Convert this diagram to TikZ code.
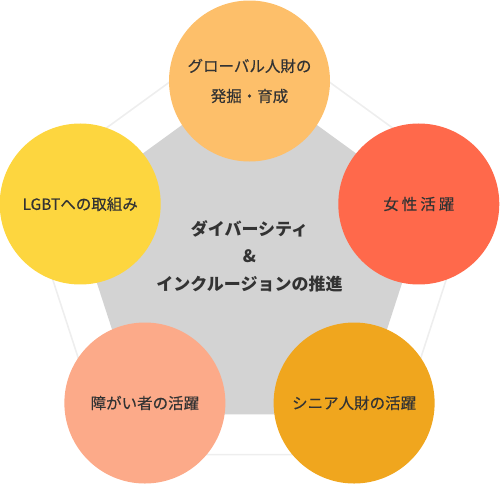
\documentclass[tikz,border=0pt]{standalone}
\usepackage{fontspec}
\setmainfont{Noto Sans CJK JP}
\newfontfamily\fieldfont{Noto Sans CJK JP}[FakeBold=0.3]
\definecolor{textgray}{HTML}{333333}
\definecolor{pentagray}{HTML}{D3D3D3}
\definecolor{linegray}{HTML}{EEEEEE}
\definecolor{globalorange}{HTML}{FDBF6A}
\definecolor{womenred}{HTML}{FF694B}
\definecolor{lgbtyellow}{HTML}{FDD63F}
\definecolor{disabsalmon}{HTML}{FCAA89}
\definecolor{seniororange}{HTML}{F0A61E}
\begin{document}
\begin{tikzpicture}[x=1pt,y=1pt,
    field/.style={circle, minimum size=161pt, inner sep=0pt, align=center,
      text=textgray, font=\fieldfont\fontsize{15.5}{30}\selectfont}
    ]
    \useasboundingbox (-249.5,-224) rectangle (250.5,259);
    % outer frame and gray pentagon
    \draw[linegray, line width=1.6pt] ([shift={(0,-3)}]90:238) -- ([shift={(0,-3)}]162:238)
      -- ([shift={(0,-3)}]234:238) -- ([shift={(0,-3)}]306:238)
      -- ([shift={(0,-3)}]18:238) -- cycle;
    \fill[pentagray] ([shift={(0,-4)}]90:187) -- ([shift={(0,-4)}]162:187)
      -- ([shift={(0,-4)}]234:187) -- ([shift={(0,-4)}]306:187)
      -- ([shift={(0,-4)}]18:187) -- cycle;
    \node[field, fill=globalorange] (global) at (90:178) {グローバル人財の\\発掘・育成};
    \node[field, fill=womenred] (women) at (18:178) {女\hspace{3pt}性\hspace{3pt}活\hspace{3pt}躍};
    \node[field, fill=seniororange] (senior) at (306:178) {シニア人財の活躍};
    \node[field, fill=disabsalmon] (disab) at (234:178) {障がい者の活躍};
    \node[field, fill=lgbtyellow] (lgbt) at (162:178) {LGBTへの取組み};
    \node[align=center, text=textgray, font=\bfseries\fontsize{17}{27.5}\selectfont]
      (center) at (0,3) {ダイバーシティ\\\&\\インクルージョンの推進};
  \end{tikzpicture}
\end{document}
